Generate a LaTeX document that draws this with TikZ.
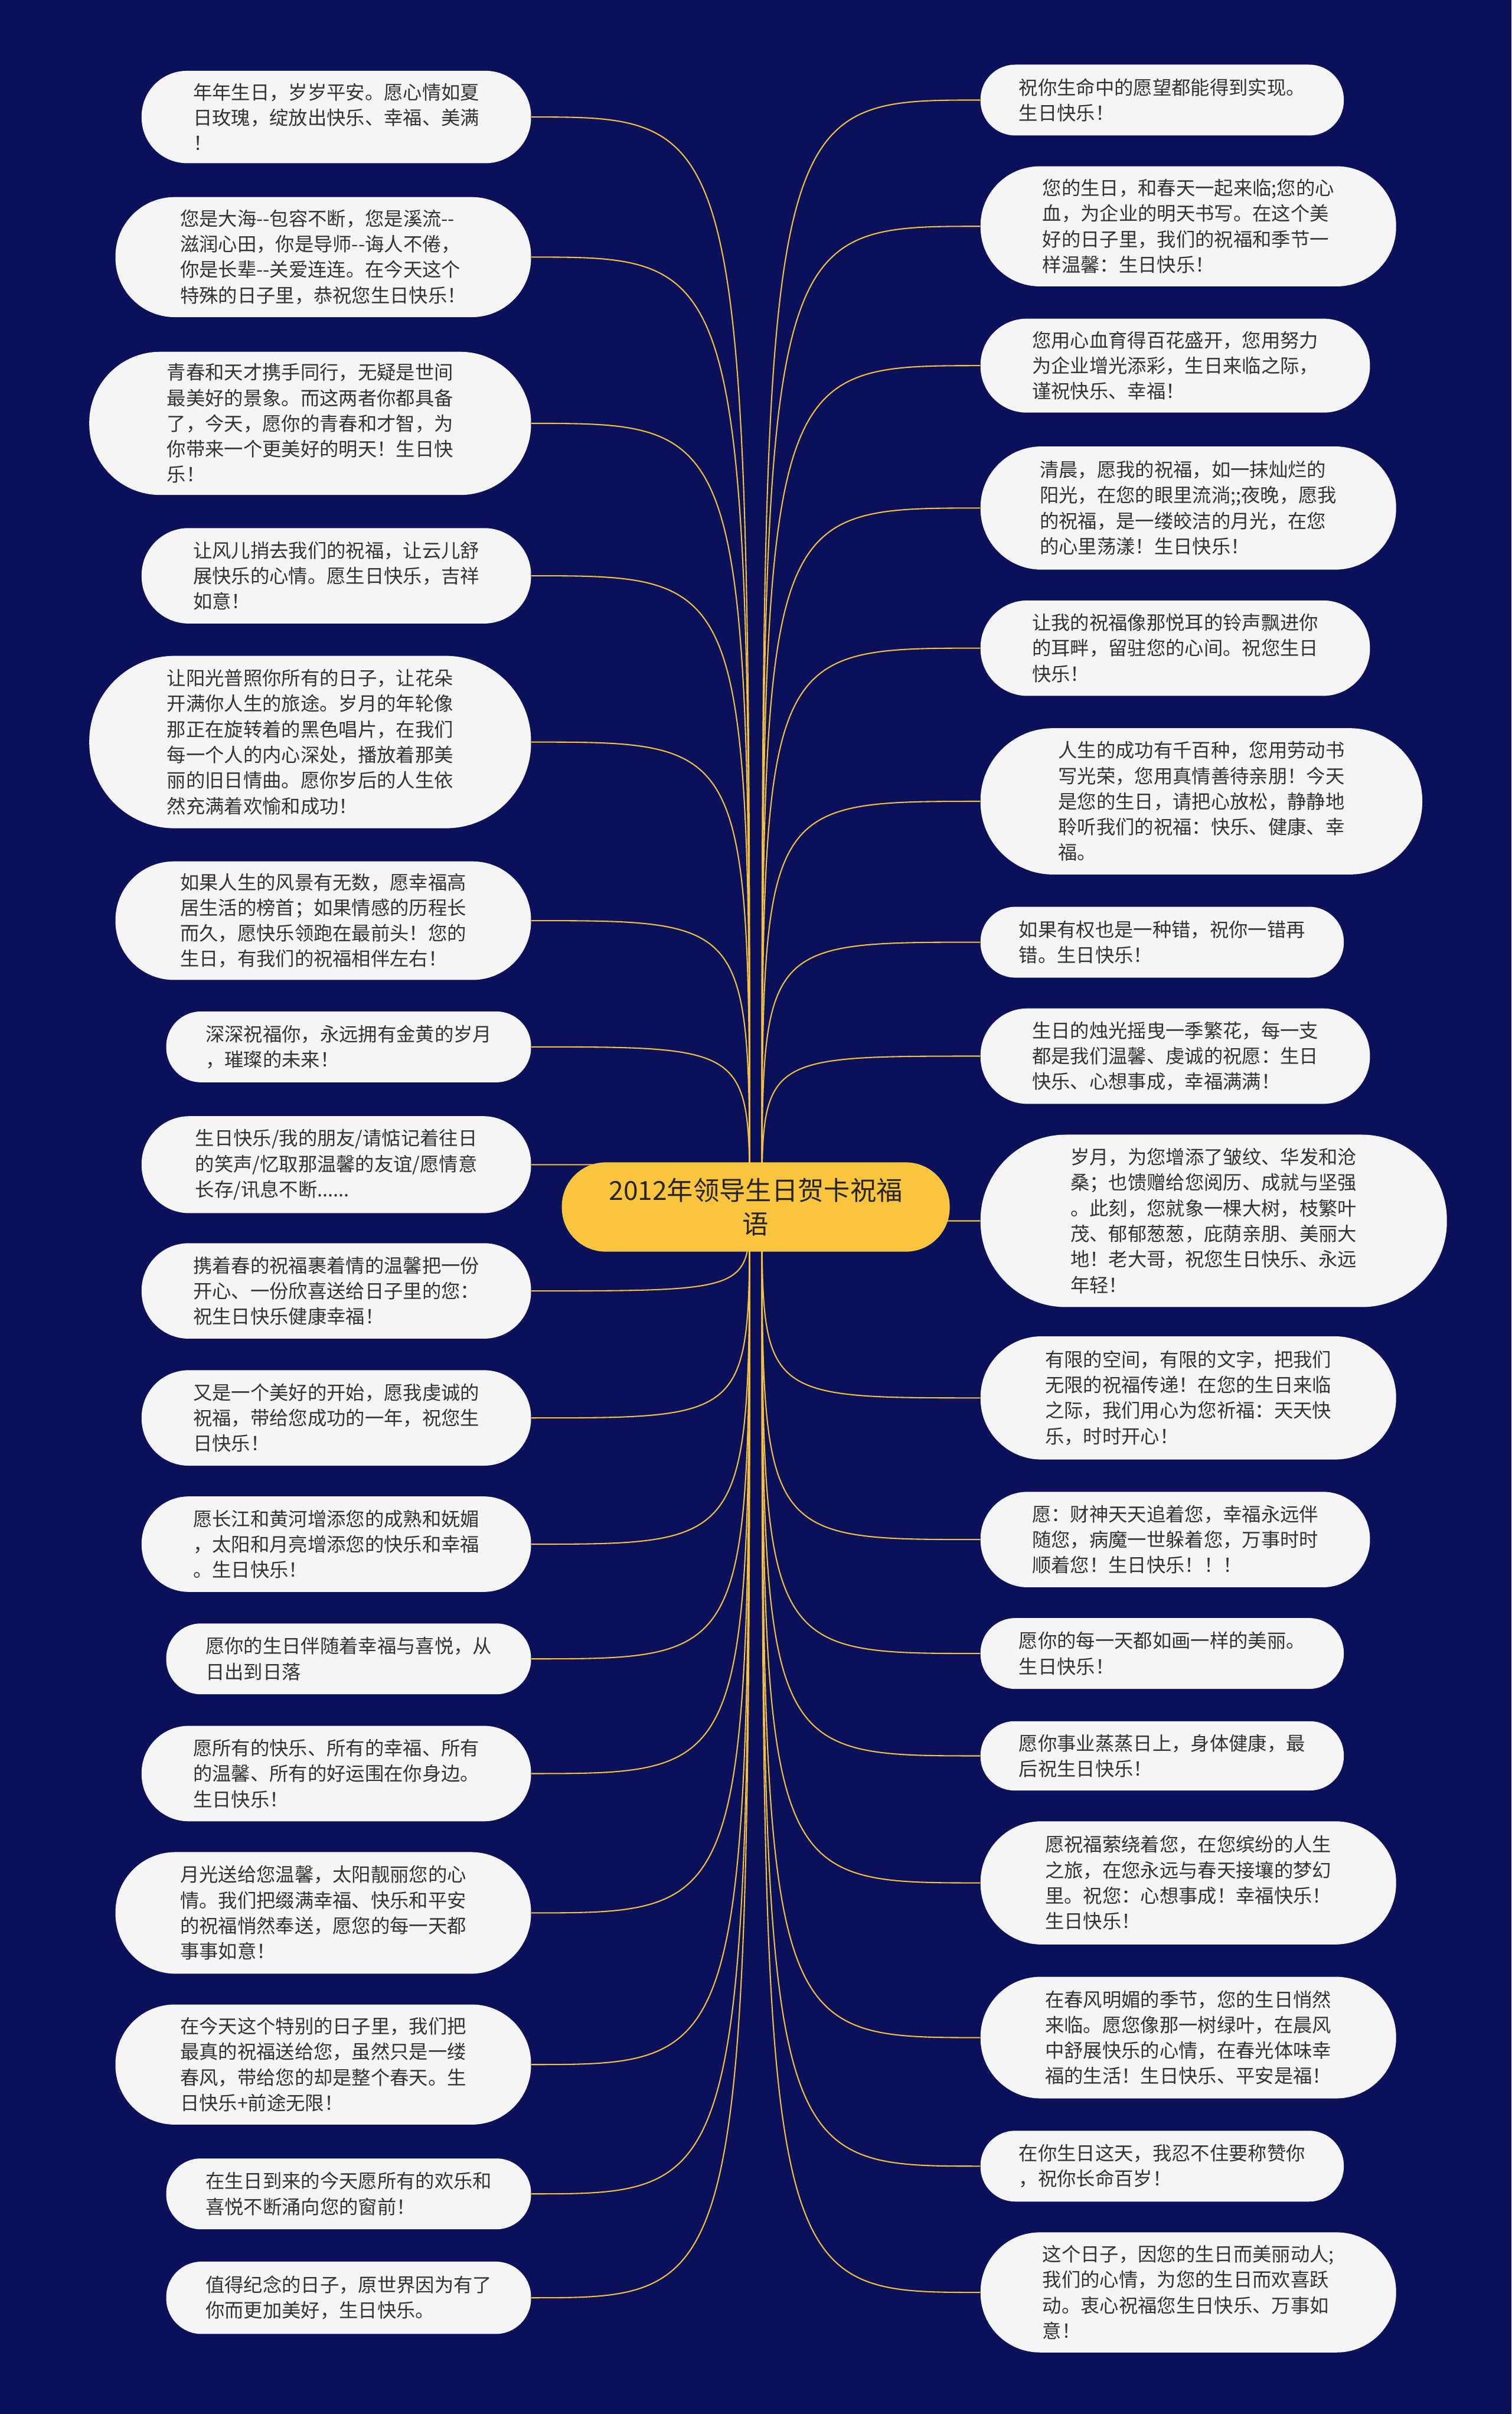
\documentclass[tikz,border=0pt]{standalone}
\usepackage{fontspec}
\usepackage{tikz}
\usetikzlibrary{backgrounds}
\newfontfamily\cjk{Noto Sans CJK SC}
\definecolor{deepnavy}{HTML}{0B105B}
\definecolor{linkgold}{HTML}{F3C040}
\definecolor{rootgold}{HTML}{F9C53E}
\definecolor{cardbg}{HTML}{F5F5F5}
\definecolor{inkgray}{HTML}{333333}
\tikzset{
  card/.style={fill=cardbg, text=inkgray, align=left, inner sep=0pt,
    font=\cjk\fontsize{12.4pt}{16.6pt}\selectfont},
  rootcard/.style={fill=rootgold, text=black!85, align=center, inner sep=0pt,
    font=\cjk\fontsize{17pt}{22pt}\selectfont},
  pill/.style 2 args={minimum width=#1, minimum height=#2, rounded corners=#2/2-0.5},
  link/.style={linkgold, line width=0.8pt},
}

\begin{document}
\begin{tikzpicture}[x=1pt,y=-1pt]
  \useasboundingbox (0,0) rectangle (982,1568);
  % centre
  \node[rootcard, pill={252}{58}] (root) at (491,784) {2012年领导生日贺卡祝福\\语};
  \coordinate (lhub) at ([xshift=-4pt]root.center);
  \coordinate (rhub) at ([xshift=4pt]root.center);
  % left column
  \node[card, pill={253}{60}] (l1) at (218.5,76) {年年生日，岁岁平安。愿心情如夏\\日玫瑰，绽放出快乐、幸福、美满\\！};
  \node[card, pill={270}{78}] (l2) at (210,167) {您是大海-{}-包容不断，您是溪流-{}-\\滋润心田，你是导师-{}-诲人不倦，\\你是长辈-{}-关爱连连。在今天这个\\特殊的日子里，恭祝您生日快乐！};
  \node[card, pill={287}{93}] (l3) at (201.5,275) {青春和天才携手同行，无疑是世间\\最美好的景象。而这两者你都具备\\了，今天，愿你的青春和才智，为\\你带来一个更美好的明天！生日快\\乐！};
  \node[card, pill={253}{62}] (l4) at (218.5,374) {让风儿捎去我们的祝福，让云儿舒\\展快乐的心情。愿生日快乐，吉祥\\如意！};
  \node[card, pill={287}{112}] (l5) at (201.5,482) {让阳光普照你所有的日子，让花朵\\开满你人生的旅途。岁月的年轮像\\那正在旋转着的黑色唱片，在我们\\每一个人的内心深处，播放着那美\\丽的旧日情曲。愿你岁后的人生依\\然充满着欢愉和成功！};
  \node[card, pill={270}{77}] (l6) at (210,598) {如果人生的风景有无数，愿幸福高\\居生活的榜首；如果情感的历程长\\而久，愿快乐领跑在最前头！您的\\生日，有我们的祝福相伴左右！};
  \node[card, pill={237}{46}] (l7) at (226.5,680) {深深祝福你，永远拥有金黄的岁月\\，璀璨的未来！};
  \node[card, pill={253}{63}] (l8) at (218.5,756.5) {生日快乐/我的朋友/请惦记着往日\\的笑声/忆取那温馨的友谊/愿情意\\长存/讯息不断......};
  \node[card, pill={253}{62}] (l9) at (218.5,838.5) {携着春的祝福裹着情的温馨把一份\\开心、一份欣喜送给日子里的您：\\祝生日快乐健康幸福！};
  \node[card, pill={253}{62}] (l10) at (218.5,921) {又是一个美好的开始，愿我虔诚的\\祝福，带给您成功的一年，祝您生\\日快乐！};
  \node[card, pill={253}{62}] (l11) at (218.5,1003) {愿长江和黄河增添您的成熟和妩媚\\，太阳和月亮增添您的快乐和幸福\\。生日快乐！};
  \node[card, pill={237}{46}] (l12) at (226.5,1077.5) {愿你的生日伴随着幸福与喜悦，从\\日出到日落};
  \node[card, pill={253}{62}] (l13) at (218.5,1152) {愿所有的快乐、所有的幸福、所有\\的温馨、所有的好运围在你身边。\\生日快乐！};
  \node[card, pill={270}{79}] (l14) at (210,1242.5) {月光送给您温馨，太阳靓丽您的心\\情。我们把缀满幸福、快乐和平安\\的祝福悄然奉送，愿您的每一天都\\事事如意！};
  \node[card, pill={270}{78}] (l15) at (210,1341) {在今天这个特别的日子里，我们把\\最真的祝福送给您，虽然只是一缕\\春风，带给您的却是整个春天。生\\日快乐+前途无限！};
  \node[card, pill={237}{46}] (l16) at (226.5,1425) {在生日到来的今天愿所有的欢乐和\\喜悦不断涌向您的窗前！};
  \node[card, pill={237}{47}] (l17) at (226.5,1492.5) {值得纪念的日子，原世界因为有了\\你而更加美好，生日快乐。};
  % right column
  \node[card, pill={236}{46}] (r1) at (755,65) {祝你生命中的愿望都能得到实现。\\生日快乐！};
  \node[card, pill={270}{78}] (r2) at (772,147) {您的生日，和春天一起来临;您的心\\血，为企业的明天书写。在这个美\\好的日子里，我们的祝福和季节一\\样温馨：生日快乐！};
  \node[card, pill={253}{61}] (r3) at (763.5,237.5) {您用心血育得百花盛开，您用努力\\为企业增光添彩，生日来临之际，\\谨祝快乐、幸福！};
  \node[card, pill={270}{80}] (r4) at (772,330) {清晨，愿我的祝福，如一抹灿烂的\\阳光，在您的眼里流淌;;夜晚，愿我\\的祝福，是一缕皎洁的月光，在您\\的心里荡漾！生日快乐！};
  \node[card, pill={253}{62}] (r5) at (763.5,421) {让我的祝福像那悦耳的铃声飘进你\\的耳畔，留驻您的心间。祝您生日\\快乐！};
  \node[card, pill={287}{95}] (r6) at (780.5,520.5) {人生的成功有千百种，您用劳动书\\写光荣，您用真情善待亲朋！今天\\是您的生日，请把心放松，静静地\\聆听我们的祝福：快乐、健康、幸\\福。};
  \node[card, pill={236}{46}] (r7) at (755,612) {如果有权也是一种错，祝你一错再\\错。生日快乐！};
  \node[card, pill={253}{62}] (r8) at (763.5,686) {生日的烛光摇曳一季繁花，每一支\\都是我们温馨、虔诚的祝愿：生日\\快乐、心想事成，幸福满满！};
  \node[card, pill={303}{112}] (r9) at (788.5,793) {岁月，为您增添了皱纹、华发和沧\\桑；也馈赠给您阅历、成就与坚强\\。此刻，您就象一棵大树，枝繁叶\\茂、郁郁葱葱，庇荫亲朋、美丽大\\地！老大哥，祝您生日快乐、永远\\年轻！};
  \node[card, pill={270}{80}] (r10) at (772,908) {有限的空间，有限的文字，把我们\\无限的祝福传递！在您的生日来临\\之际，我们用心为您祈福：天天快\\乐，时时开心！};
  \node[card, pill={253}{62}] (r11) at (763.5,1000) {愿：财神天天追着您，幸福永远伴\\随您，病魔一世躲着您，万事时时\\顺着您！生日快乐！！！};
  \node[card, pill={236}{46}] (r12) at (755,1074) {愿你的每一天都如画一样的美丽。\\生日快乐！};
  \node[card, pill={236}{45}] (r13) at (755,1140.5) {愿你事业蒸蒸日上，身体健康，最\\后祝生日快乐！};
  \node[card, pill={270}{80}] (r14) at (772,1223) {愿祝福萦绕着您，在您缤纷的人生\\之旅，在您永远与春天接壤的梦幻\\里。祝您：心想事成！幸福快乐！\\生日快乐！};
  \node[card, pill={270}{79}] (r15) at (772,1323.5) {在春风明媚的季节，您的生日悄然\\来临。愿您像那一树绿叶，在晨风\\中舒展快乐的心情，在春光体味幸\\福的生活！生日快乐、平安是福！};
  \node[card, pill={236}{46}] (r16) at (755,1407) {在你生日这天，我忍不住要称赞你\\，祝你长命百岁！};
  \node[card, pill={270}{78}] (r17) at (772,1489) {这个日子，因您的生日而美丽动人;\\我们的心情，为您的生日而欢喜跃\\动。衷心祝福您生日快乐、万事如\\意！};
  % canvas and branches behind the cards
  \begin{pgfonlayer}{background}
    \fill[deepnavy] (0,0) rectangle (982,1568);
    \foreach \i in {1,...,17} {
      \draw[link] (lhub) .. controls (lhub |- l\i.east) .. (l\i.east);
      \draw[link] (rhub) .. controls (rhub |- r\i.west) .. (r\i.west);
    }
  \end{pgfonlayer}
\end{tikzpicture}
\end{document}
